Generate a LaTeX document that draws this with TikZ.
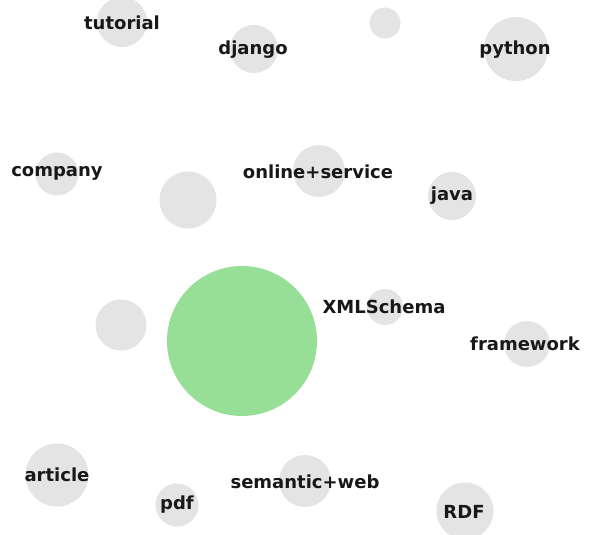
\documentclass[tikz,border=0pt]{standalone}
\usepackage{fontspec}
\setmainfont{DejaVu Sans}
\definecolor{bubble}{RGB}{228,228,228}
\definecolor{hot}{RGB}{151,223,151}
\definecolor{ink}{RGB}{24,24,24}
\begin{document}
\begin{tikzpicture}[x=1pt,y=-1pt,
  bub/.style={circle,fill=bubble,draw=none,inner sep=0pt},
  tag/.style={font=\fontsize{18}{18}\selectfont\bfseries,text=ink,inner sep=0pt,anchor=center,yshift=-1.5pt}]
\path[use as bounding box,fill=white] (0,0) rectangle (590,535);
% bubbles
\node[bub,minimum size=50pt] (c1) at (122,22) {};
\node[bub,minimum size=48pt] (c2) at (254,49) {};
\node[bub,minimum size=31pt] (c3) at (385,23) {};
\node[bub,minimum size=64pt] (c4) at (516,49) {};
\node[bub,minimum size=43pt] (c5) at (57,174) {};
\node[bub,minimum size=57pt] (c6) at (188,200) {};
\node[bub,minimum size=52pt] (c7) at (319,171) {};
\node[bub,minimum size=48pt] (c8) at (452,196) {};
\node[bub,minimum size=51pt] (c9) at (121,325) {};
\node[circle,fill=hot,draw=none,inner sep=0pt,minimum size=150pt] (c10) at (242,341) {};
\node[bub,minimum size=36pt] (c11) at (385,307) {};
\node[bub,minimum size=46pt] (c12) at (527,344) {};
\node[bub,minimum size=63pt] (c13) at (57,475) {};
\node[bub,minimum size=43pt] (c14) at (177,505) {};
\node[bub,minimum size=52pt] (c15) at (305,481) {};
\node[bub,minimum size=57pt] (c16) at (465,511) {};
% labels
\node[tag] (t1) at (122,21) {tutorial};
\node[tag] (t2) at (253,48) {django};
\node[tag] (t4) at (515,48) {python};
\node[tag] (t5) at (57,172) {company};
\node[tag] (t7) at (318,170) {online+service};
\node[tag] (t8) at (452,194) {java};
\node[tag] (t11) at (384,305) {XMLSchema};
\node[tag] (t12) at (525,342) {framework};
\node[tag] (t13) at (57,473) {article};
\node[tag] (t14) at (177,503) {pdf};
\node[tag] (t15) at (305,480) {semantic+web};
\node[tag] (t16) at (464,510) {RDF};
\end{tikzpicture}
\end{document}
